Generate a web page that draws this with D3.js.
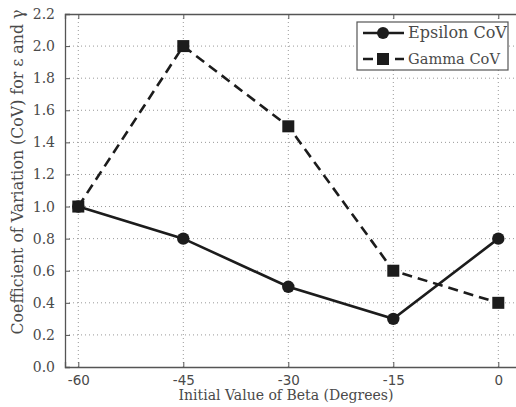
<!DOCTYPE html>
<html>
<head>
<meta charset="utf-8">
<script src="https://cdn.jsdelivr.net/npm/d3@7"></script>
<style>
  html, body { margin: 0; padding: 0; background: #fff; }
  svg { display: block; }
</style>
</head>
<body>
<svg id="chart" width="516" height="407"></svg>
<script>
// Initial beta angle (degrees) and coefficient of variation for each parameter
const betaValues = [-60, -45, -30, -15, 0];
const epsilonCoV = [1.0, 0.8, 0.5, 0.3, 0.8];
const gammaCoV = [1.0, 2.0, 1.5, 0.6, 0.4];
const xTicks = [-60, -45, -30, -15, 0];
const yTicks = [0.0, 0.2, 0.4, 0.6, 0.8, 1.0, 1.2, 1.4, 1.6, 1.8, 2.0, 2.2];
const seriesNames = ["Epsilon CoV", "Gamma CoV"];

const svg = d3.select("#chart");
const plotLeft = 65, plotRight = 520, plotTop = 14, plotBottom = 367;

const x = d3.scaleLinear().domain([-61.9, 3.1]).range([plotLeft, plotRight]);
const y = d3.scaleLinear().domain([0, 2.2]).range([plotBottom, plotTop]);

const axisColor = "#555";
const textColor = "#4a4a4a";
const lineColor = "#1c1c1c";
const serif = "'DejaVu Serif', 'Liberation Serif', serif";

// Scale a text's font size so that it spans the given width
function fitWidth(sel, width) {
  sel.each(function () {
    const len = this.getComputedTextLength();
    const fs = parseFloat(this.style.fontSize);
    if (len > 0) this.style.fontSize = (fs * width / len).toFixed(2) + "px";
  });
}

// Dotted grid
const grid = svg.append("g");
grid.selectAll("line.gy").data(yTicks.filter(v => v > 0 && v < 2.2)).join("line")
  .attr("x1", plotLeft).attr("x2", plotRight)
  .attr("y1", d => y(d)).attr("y2", d => y(d))
  .attr("stroke", "#999").attr("stroke-width", 1).attr("stroke-dasharray", "1,3");
grid.selectAll("line.gx").data(xTicks).join("line")
  .attr("x1", d => x(d)).attr("x2", d => x(d))
  .attr("y1", plotTop).attr("y2", plotBottom)
  .attr("stroke", "#999").attr("stroke-width", 1).attr("stroke-dasharray", "1,3");

// Axes with inward ticks
const xAxis = svg.append("g").attr("transform", `translate(0,${plotBottom})`)
  .call(d3.axisBottom(x).tickValues(xTicks).tickSize(-5).tickPadding(8).tickFormat(d => String(d)));
const xAxisTop = svg.append("g").attr("transform", `translate(0,${plotTop})`)
  .call(d3.axisTop(x).tickValues(xTicks).tickSize(-5).tickFormat(""));
const yAxis = svg.append("g").attr("transform", `translate(${plotLeft},0)`)
  .call(d3.axisLeft(y).tickValues(yTicks).tickSize(-5).tickPadding(10).tickFormat(d3.format(".1f")));

[xAxis, xAxisTop, yAxis].forEach(g => {
  g.attr("font-family", null);
  g.select(".domain").attr("stroke", axisColor).attr("stroke-width", 1.3);
  g.selectAll(".tick line").attr("stroke", axisColor).attr("stroke-width", 1);
});
xAxis.selectAll("text").attr("fill", textColor)
  .style("font-family", "'DejaVu Sans', sans-serif").style("font-size", "13.5px");
yAxis.selectAll("text").attr("fill", textColor)
  .style("font-family", serif).style("font-size", "14px");

// Axis titles
svg.append("text")
  .attr("x", 286).attr("y", 400)
  .attr("text-anchor", "middle")
  .attr("fill", textColor)
  .style("font-family", serif).style("font-size", "14px")
  .text("Initial Value of Beta (Degrees)")
  .call(fitWidth, 215);
svg.append("text")
  .attr("transform", "translate(23,172) rotate(-90)")
  .attr("text-anchor", "middle")
  .attr("fill", textColor)
  .style("font-family", serif).style("font-size", "14px")
  .text("Coefficient of Variation (CoV) for ε and γ")
  .call(fitWidth, 325);

// Series lines and markers
const line = d3.line().x(d => x(d[0])).y(d => y(d[1]));
const epsPts = betaValues.map((b, i) => [b, epsilonCoV[i]]);
const gamPts = betaValues.map((b, i) => [b, gammaCoV[i]]);

svg.append("path").datum(gamPts).attr("d", line)
  .attr("fill", "none").attr("stroke", lineColor).attr("stroke-width", 2.6)
  .attr("stroke-dasharray", "10,6");
svg.append("path").datum(epsPts).attr("d", line)
  .attr("fill", "none").attr("stroke", lineColor).attr("stroke-width", 2.6);

svg.selectAll("rect.gm").data(gamPts).join("rect")
  .attr("x", d => x(d[0]) - 6).attr("y", d => y(d[1]) - 6)
  .attr("width", 12).attr("height", 12).attr("fill", lineColor);
svg.selectAll("circle.em").data(epsPts).join("circle")
  .attr("cx", d => x(d[0])).attr("cy", d => y(d[1])).attr("r", 6.2)
  .attr("fill", lineColor);

// Legend
const lg = svg.append("g");
lg.append("rect").attr("x", 357).attr("y", 22).attr("width", 151).attr("height", 48)
  .attr("fill", "#fff").attr("stroke", axisColor).attr("stroke-width", 1.2);
const rows = [33, 59];
// Epsilon entry
lg.append("line").attr("x1", 363).attr("x2", 404).attr("y1", rows[0]).attr("y2", rows[0])
  .attr("stroke", lineColor).attr("stroke-width", 2.6);
lg.append("circle").attr("cx", 383).attr("cy", rows[0]).attr("r", 6).attr("fill", lineColor);
// Gamma entry
lg.append("line").attr("x1", 363).attr("x2", 404).attr("y1", rows[1]).attr("y2", rows[1])
  .attr("stroke", lineColor).attr("stroke-width", 2.6).attr("stroke-dasharray", "10,6");
lg.append("rect").attr("x", 377).attr("y", rows[1] - 6).attr("width", 12).attr("height", 12).attr("fill", lineColor);
const legendWidths = [99, 92];
lg.selectAll("text.lt").data(seriesNames).join("text")
  .attr("class", "lt")
  .attr("x", 408).attr("y", (d, i) => rows[i] + 5)
  .attr("fill", textColor)
  .style("font-family", serif).style("font-size", "15px")
  .text(d => d)
  .each(function (d, i) { d3.select(this).call(fitWidth, legendWidths[i]); });
</script>
</body>
</html>
